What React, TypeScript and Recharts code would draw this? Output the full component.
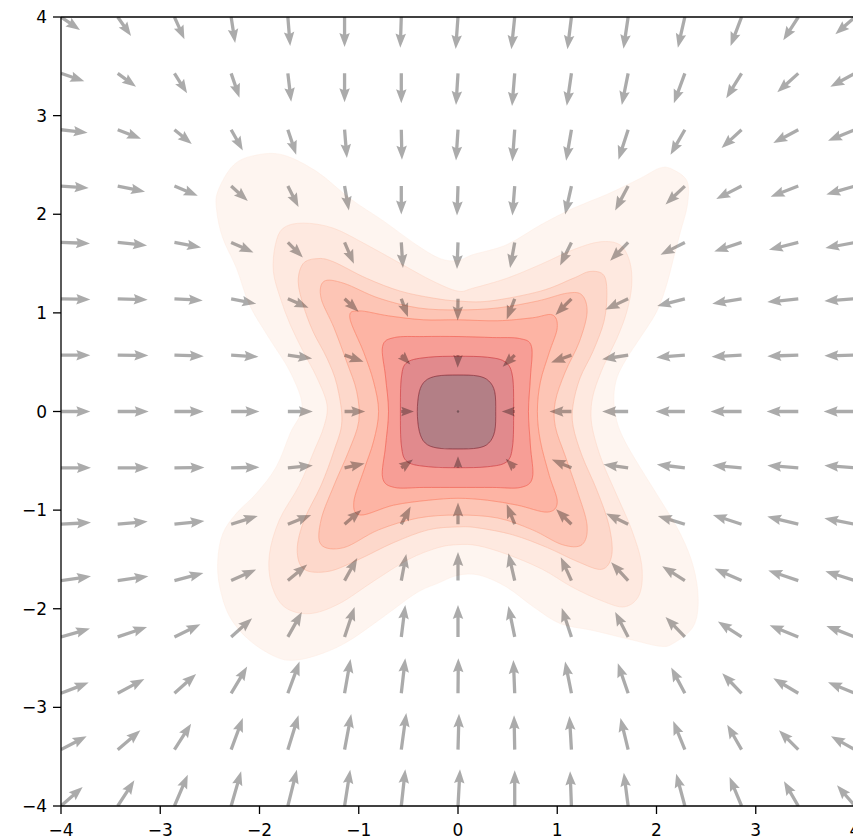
import React from 'react';
import { ComposedChart, Scatter, XAxis, YAxis, ReferenceLine } from 'recharts';

// quiver grid: 15 x 15 tails, rows listed top (y = 4) to bottom (y = -4)
const gridX = [-4, -3.4286, -2.8571, -2.2857, -1.7143, -1.1429, -0.5714, 0, 0.5714, 1.1429, 1.7143, 2.2857, 2.8571, 3.4286, 4];
const gridY = [4, 3.4286, 2.8571, 2.2857, 1.7143, 1.1429, 0.5714, 0, -0.5714, -1.1429, -1.7143, -2.2857, -2.8571, -3.4286, -4];

// arrow components (arbitrary units)
const arrowU = [
  [57, 40, 30, 12, 7, 0, -3, -7, -10, -12, -14, -21, -33, -45, -59],
  [70, 55, 38, 25, 10, 0, 0, -6, -8, -14, -19, -33, -46, -63, -74],
  [80, 70, 52, 35, 25, 7, 2, -6, -7, -16, -29, -43, -60, -75, -81],
  [83, 82, 70, 50, 32, 13, 0, -3, -7, -19, -39, -58, -76, -83, -86],
  [87, 88, 80, 67, 45, 28, 5, -3, -14, -34, -54, -73, -82, -88, -89],
  [88, 90, 85, 75, 62, 42, 20, -1, -24, -48, -68, -83, -88, -93, -92],
  [88, 92, 88, 82, 73, 57, 27, -1, -36, -61, -78, -86, -90, -93, -92],
  [88, 93, 88, 85, 75, 62, 38, 0, -39, -66, -78, -88, -93, -95, -94],
  [90, 93, 90, 85, 75, 60, 35, 0, -27, -59, -74, -84, -88, -93, -92],
  [90, 90, 90, 80, 70, 50, 28, 0, -24, -46, -66, -81, -86, -93, -92],
  [90, 92, 87, 75, 58, 38, 15, 0, -19, -32, -51, -68, -81, -90, -89],
  [87, 88, 78, 63, 42, 30, 12, 0, -19, -29, -39, -58, -71, -86, -86],
  [83, 80, 65, 48, 35, 18, 12, 1, -4, -19, -31, -41, -58, -75, -81],
  [77, 68, 50, 35, 32, 20, 15, 3, -2, -6, -23, -35, -43, -58, -72],
  [65, 50, 40, 30, 27, 17, 12, 6, 0, -4, -13, -26, -36, -43, -54],
];
const arrowV = [
  [-39, -57, -67, -78, -87, -90, -92, -96, -97, -97, -95, -92, -87, -70, -52],
  [-24, -40, -60, -73, -85, -87, -90, -95, -98, -97, -95, -90, -75, -57, -40],
  [-9, -27, -43, -62, -75, -85, -90, -92, -95, -93, -90, -75, -55, -40, -33],
  [-6, -17, -29, -45, -63, -73, -85, -88, -88, -85, -73, -55, -39, -32, -25],
  [-3, -9, -15, -30, -45, -64, -77, -80, -77, -69, -55, -37, -27, -22, -17],
  [-2, -3, -5, -15, -27, -39, -55, -65, -62, -49, -32, -22, -15, -10, -7],
  [0, -1, -3, -5, -10, -20, -28, -38, -35, -22, -12, -7, -5, -3, -2],
  [0, 0, 0, 0, 0, 0, 0, 0, 0, 0, 0, 0, 0, 0, 0],
  [0, 0, 1, 2, 7, 13, 25, 35, 27, 25, 10, 10, 8, 7, 7],
  [5, 8, 10, 25, 28, 43, 53, 65, 60, 45, 32, 25, 28, 23, 18],
  [13, 13, 23, 33, 48, 68, 80, 86, 82, 70, 55, 43, 36, 30, 28],
  [25, 30, 38, 56, 75, 90, 96, 96, 93, 87, 75, 60, 46, 35, 33],
  [32, 43, 58, 80, 95, 103, 105, 105, 100, 95, 90, 77, 60, 45, 33],
  [40, 58, 78, 95, 103, 107, 110, 108, 103, 101, 95, 86, 75, 58, 40],
  [57, 77, 94, 104, 109, 109, 110, 110, 107, 104, 100, 97, 87, 74, 62],
];

const ticks = [-4, -3, -2, -1, 0, 1, 2, 3, 4];

// filled contour levels, outermost first, as [x, y] outlines
const level1 = [
  [0, 1.53], [0.15, 1.59], [0.49, 1.69], [0.83, 1.89], [1.16, 2.06], [1.5, 2.2], [1.83, 2.36], [2.04, 2.47],
  [2.17, 2.45], [2.31, 2.33], [2.31, 2.09], [2.24, 1.82], [2.17, 1.55], [2.1, 1.28], [2.0, 1.01], [1.83, 0.74],
  [1.7, 0.54], [1.6, 0.34], [1.57, 0.13], [1.6, -0.1], [1.68, -0.3], [1.83, -0.56], [2.04, -0.9], [2.24, -1.24],
  [2.37, -1.57], [2.42, -1.91], [2.37, -2.18], [2.17, -2.35], [2.04, -2.38], [1.77, -2.32], [1.36, -2.22],
  [1.03, -2.15], [0.76, -1.98], [0.49, -1.78], [0.22, -1.66], [0, -1.66], [-0.2, -1.74], [-0.42, -1.84],
  [-0.75, -2.08], [-1.09, -2.32], [-1.36, -2.45], [-1.63, -2.52], [-1.83, -2.49], [-2.1, -2.32], [-2.3, -2.08],
  [-2.4, -1.78], [-2.42, -1.51], [-2.37, -1.24], [-2.23, -1.03], [-2.03, -0.83], [-1.83, -0.56], [-1.69, -0.22],
  [-1.57, 0.05], [-1.69, 0.4], [-1.9, 0.74], [-2.1, 1.08], [-2.23, 1.45], [-2.37, 1.76], [-2.43, 2.03],
  [-2.42, 2.23], [-2.26, 2.5], [-2.03, 2.6], [-1.76, 2.6], [-1.42, 2.43], [-1.09, 2.16], [-0.75, 1.93],
  [-0.42, 1.69], [-0.18, 1.55],
];
const level2 = [
  [0, 1.22], [0.15, 1.25], [0.49, 1.35], [0.83, 1.49], [1.16, 1.64], [1.43, 1.72], [1.63, 1.69], [1.73, 1.52],
  [1.75, 1.28], [1.7, 1.01], [1.6, 0.74], [1.47, 0.47], [1.37, 0.2], [1.34, 0], [1.36, -0.2], [1.45, -0.5],
  [1.6, -0.85], [1.75, -1.2], [1.85, -1.55], [1.83, -1.85], [1.68, -1.98], [1.45, -1.92], [1.15, -1.78],
  [0.85, -1.6], [0.5, -1.45], [0.2, -1.36], [0, -1.35], [-0.2, -1.38], [-0.5, -1.5], [-0.85, -1.72],
  [-1.2, -1.95], [-1.5, -2.05], [-1.75, -1.98], [-1.88, -1.75], [-1.9, -1.45], [-1.8, -1.1], [-1.6, -0.75],
  [-1.45, -0.4], [-1.35, -0.15], [-1.32, 0.07], [-1.42, 0.34], [-1.56, 0.61], [-1.69, 0.88], [-1.79, 1.15],
  [-1.86, 1.42], [-1.84, 1.69], [-1.76, 1.86], [-1.56, 1.91], [-1.26, 1.86], [-0.92, 1.69], [-0.58, 1.5],
  [-0.25, 1.32],
];
const level3 = [
  [0, 1.12], [0.32, 1.12], [0.83, 1.22], [1.16, 1.35], [1.33, 1.42], [1.47, 1.38], [1.5, 1.18], [1.47, 0.91],
  [1.36, 0.61], [1.23, 0.34], [1.16, 0.07], [1.16, -0.15], [1.25, -0.45], [1.4, -0.8], [1.52, -1.15],
  [1.55, -1.45], [1.45, -1.6], [1.2, -1.52], [0.9, -1.38], [0.55, -1.25], [0.2, -1.18], [0, -1.17],
  [-0.3, -1.2], [-0.65, -1.33], [-1.0, -1.5], [-1.3, -1.62], [-1.55, -1.6], [-1.62, -1.4], [-1.55, -1.1],
  [-1.38, -0.75], [-1.25, -0.4], [-1.17, -0.1], [-1.22, 0.27], [-1.32, 0.54], [-1.46, 0.81], [-1.56, 1.08],
  [-1.61, 1.32], [-1.56, 1.5], [-1.42, 1.55], [-1.26, 1.52], [-0.92, 1.35], [-0.58, 1.22], [-0.25, 1.15],
];
const level4 = [
  [0, 1.03], [0.4, 1.05], [0.8, 1.12], [1.1, 1.2], [1.25, 1.18], [1.3, 1.0], [1.22, 0.7], [1.08, 0.4],
  [0.98, 0.1], [0.98, -0.15], [1.08, -0.45], [1.2, -0.8], [1.3, -1.15], [1.25, -1.35], [1.05, -1.35],
  [0.75, -1.2], [0.4, -1.08], [0, -1.05], [-0.4, -1.08], [-0.8, -1.2], [-1.15, -1.38], [-1.38, -1.35],
  [-1.38, -1.1], [-1.25, -0.75], [-1.1, -0.4], [-1.0, -0.1], [-1.02, 0.2], [-1.12, 0.5], [-1.25, 0.85],
  [-1.38, 1.15], [-1.35, 1.32], [-1.15, 1.3], [-0.8, 1.15], [-0.4, 1.05],
];
const level5 = [
  [0, 0.93], [0.4, 0.92], [0.75, 0.95], [0.95, 0.98], [1.0, 0.85], [0.92, 0.6], [0.83, 0.3], [0.8, 0],
  [0.83, -0.3], [0.92, -0.65], [1.0, -0.92], [0.9, -1.02], [0.6, -0.95], [0.3, -0.9], [0, -0.88],
  [-0.3, -0.9], [-0.65, -0.95], [-0.98, -1.05], [-1.05, -0.92], [-0.95, -0.6], [-0.85, -0.3], [-0.8, 0],
  [-0.85, 0.3], [-0.95, 0.6], [-1.09, 0.95], [-1.0, 1.02], [-0.7, 0.97], [-0.35, 0.93],
];
const level6 = [
  [0, 0.76], [0.35, 0.75], [0.62, 0.74], [0.74, 0.66], [0.73, 0.35], [0.71, 0], [0.73, -0.35], [0.75, -0.67],
  [0.63, -0.77], [0.35, -0.77], [0, -0.77], [-0.35, -0.77], [-0.64, -0.77], [-0.76, -0.67], [-0.73, -0.35],
  [-0.7, 0], [-0.73, 0.35], [-0.76, 0.66], [-0.64, 0.75], [-0.35, 0.76],
];
const level7 = [
  [0, 0.56], [0.3, 0.55], [0.48, 0.5], [0.55, 0.35], [0.56, 0], [0.55, -0.35], [0.49, -0.51], [0.3, -0.56],
  [0, -0.57], [-0.3, -0.56], [-0.51, -0.51], [-0.57, -0.35], [-0.58, 0], [-0.57, 0.35], [-0.51, 0.5], [-0.3, 0.55],
];
const level8 = [
  [0, 0.37], [0.2, 0.36], [0.31, 0.31], [0.37, 0.2], [0.38, 0], [0.37, -0.2], [0.31, -0.32], [0.2, -0.37],
  [0, -0.38], [-0.21, -0.37], [-0.33, -0.32], [-0.39, -0.2], [-0.41, 0], [-0.39, 0.2], [-0.33, 0.31], [-0.21, 0.36],
];

const levels = [level1, level2, level3, level4, level5, level6, level7, level8];
// Reds colormap samples, drawn at alpha 0.5
const levelColors = ['#feebe2', '#fdd4c2', '#fcb297', '#fc8c6c', '#fb6a4a', '#f03e2e', '#c3161c', '#67000d'];

// arrows: black at low alpha, drawn over the filled contours
const ARROW_COLOR = '#000';
const ARROW_ALPHA = 0.33;
const PX_PER_UNIT = 1 / 3;
const SHAFT = 3.3;
const HEAD_W = 10.5;
const HEAD_L = 14;
const HEAD_AXIS = 12.5;

const arrowData = gridY.flatMap((y, r) => gridX.map((x, c) => ({ x, y, u: arrowU[r][c], v: arrowV[r][c] })));

const Arrow = (props: any) => {
  const { cx, cy, payload } = props;
  if (cx == null || cy == null || !payload) return <g />;
  const dx = payload.u * PX_PER_UNIT;
  const dy = -payload.v * PX_PER_UNIT;
  const len = Math.hypot(dx, dy);
  if (len < 0.5) return <circle cx={cx} cy={cy} r={1.2} fill={ARROW_COLOR} fillOpacity={ARROW_ALPHA} />;
  const ang = (Math.atan2(dy, dx) * 180) / Math.PI;
  let pts: number[][];
  if (len >= HEAD_L) {
    pts = [
      [0, -SHAFT / 2], [len - HEAD_AXIS, -SHAFT / 2], [len - HEAD_L, -HEAD_W / 2], [len, 0],
      [len - HEAD_L, HEAD_W / 2], [len - HEAD_AXIS, SHAFT / 2], [0, SHAFT / 2],
    ];
  } else {
    const s = len / HEAD_L;
    pts = [
      [0, -SHAFT / 2], [HEAD_L - HEAD_AXIS, -SHAFT / 2], [0, -HEAD_W / 2], [HEAD_L, 0],
      [0, HEAD_W / 2], [HEAD_L - HEAD_AXIS, SHAFT / 2], [0, SHAFT / 2],
    ].map(([a, b]) => [a * s, b * s]);
  }
  return (
    <polygon
      points={pts.map((p) => p.join(',')).join(' ')}
      transform={`translate(${cx},${cy}) rotate(${ang})`}
      fill={ARROW_COLOR}
      fillOpacity={ARROW_ALPHA}
    />
  );
};

const closedPath = (pts: { x: number; y: number }[]) => {
  const n = pts.length;
  if (n < 3) return '';
  let d = `M${pts[0].x},${pts[0].y}`;
  for (let i = 0; i < n; i++) {
    const p0 = pts[(i - 1 + n) % n];
    const p1 = pts[i];
    const p2 = pts[(i + 1) % n];
    const p3 = pts[(i + 2) % n];
    const c1x = p1.x + (p2.x - p0.x) / 6;
    const c1y = p1.y + (p2.y - p0.y) / 6;
    const c2x = p2.x - (p3.x - p1.x) / 6;
    const c2y = p2.y - (p3.y - p1.y) / 6;
    d += `C${c1x},${c1y} ${c2x},${c2y} ${p2.x},${p2.y}`;
  }
  return d + 'Z';
};

const bandLine = (outerCount: number, color: string) => (props: any) => {
  const pts = props.points || [];
  const outer = pts.slice(0, outerCount);
  const inner = pts.slice(outerCount);
  const outerPath = closedPath(outer);
  return (
    <g>
      <path d={outerPath + closedPath(inner)} fill={color} fillOpacity={0.5} fillRule="evenodd" stroke="none" />
      <path d={outerPath} fill="none" stroke={color} strokeOpacity={0.5} strokeWidth={1} />
    </g>
  );
};

const noPoint = () => <g />;

const fmt = (v: number) => (v < 0 ? `\u2212${Math.abs(v)}` : `${v}`);
const tickStyle = { fontFamily: 'DejaVu Sans, sans-serif', fontSize: 17, fill: '#000' };

export default function App() {
  return (
    <div style={{ position: 'absolute', left: 0, top: 0, width: 853, height: 839, overflow: 'hidden', background: '#fff' }}>
      <ComposedChart width={870} height={839} margin={{ top: 17, right: 15, bottom: 0, left: 0 }}>
        <XAxis
          type="number"
          dataKey="x"
          domain={[-4, 4]}
          ticks={ticks}
          tickFormatter={fmt}
          allowDataOverflow
          height={33}
          tick={tickStyle}
          tickSize={8}
          tickMargin={10}
          axisLine={{ stroke: '#000', strokeWidth: 1.3 }}
          tickLine={{ stroke: '#000', strokeWidth: 1.3 }}
        />
        <YAxis
          type="number"
          dataKey="y"
          domain={[-4, 4]}
          ticks={ticks}
          tickFormatter={fmt}
          allowDataOverflow
          width={61}
          tick={tickStyle}
          tickSize={8}
          tickMargin={6}
          axisLine={{ stroke: '#000', strokeWidth: 1.3 }}
          tickLine={{ stroke: '#000', strokeWidth: 1.3 }}
        />
        <ReferenceLine y={4} stroke="#000" strokeWidth={1.3} />
        <ReferenceLine x={4} stroke="#000" strokeWidth={1.3} />
        {levels.map((lvl, i) => {
          const inner = i + 1 < levels.length ? levels[i + 1] : [];
          const pts = [...lvl, ...inner].map(([x, y]) => ({ x, y }));
          return (
            <Scatter
              key={`band-${i}`}
              data={pts}
              shape={noPoint}
              line={bandLine(lvl.length, levelColors[i])}
              lineType="joint"
              isAnimationActive={false}
            />
          );
        })}
        <Scatter data={arrowData} shape={Arrow} isAnimationActive={false} />
      </ComposedChart>
    </div>
  );
}
